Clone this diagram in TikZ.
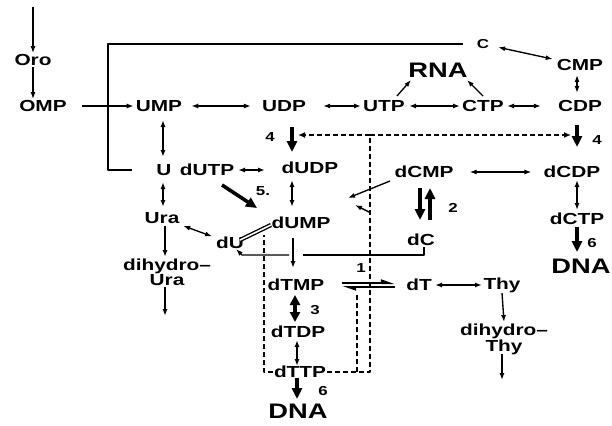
\documentclass[tikz,border=0pt]{standalone}
\usepackage{fontspec}
\setmainfont{Liberation Sans}[FakeStretch=1.3]
\usetikzlibrary{arrows.meta,calc}
\tikzset{
  every node/.style={font=\bfseries\fontsize{16}{14}\selectfont, inner sep=1pt},
  big/.style={font=\bfseries\fontsize{21}{21}\selectfont},
  num/.style={font=\bfseries\fontsize{13}{13}\selectfont},
  small/.style={font=\bfseries\fontsize{13}{13}\selectfont},
  two line/.style={align=center},
  line/.style={line width=1.35pt},
  edge/.style={line, -{Latex[length=7pt,width=5pt]}},
  both/.style={line, {Latex[length=7pt,width=5pt]}-{Latex[length=7pt,width=5pt]}},
  heavy/.style={line width=3.6pt, -{Triangle[length=11pt,width=10pt]}},
  heavy both/.style={line width=3.6pt, {Triangle[length=10pt,width=10pt]}-{Triangle[length=10pt,width=10pt]}},
  half/.style={line width=2pt, -{Triangle[harpoon,length=11pt,width=7pt]}},
  inhib/.style={line width=1.5pt, dash pattern=on 5pt off 3pt},
  gap/.style 2 args={shorten <=#1, shorten >=#2}
}

\begin{document}
\begin{tikzpicture}[x=1pt,y=-1pt,line cap=butt,line join=round]
  \useasboundingbox (0,0) rectangle (612,425);

  \node (oro) at (33,60) {Oro};
  \node (omp) at (43,106) {OMP};
  \node (ump) at (159,106) {UMP};
  \node (udp) at (284,106) {UDP};
  \node (utp) at (384,106) {UTP};
  \node (ctp) at (483,106) {CTP};
  \node (cdp) at (580,106) {CDP};
  \node[big] (rna) at (438,70) {RNA};
  \node[small] (cyd) at (483,44) {C};
  \node (cmp) at (580,65) {CMP};
  \node (u) at (164,170) {U};
  \node (dutp) at (207,170) {dUTP};
  \node (dudp) at (310,168) {dUDP};
  \node (dcmp) at (424,172) {dCMP};
  \node (dcdp) at (572,172) {dCDP};
  \node (ura) at (162,218) {Ura};
  \node (dump) at (301,223) {dUMP};
  \node (du) at (230,243) {dU};
  \node (dc) at (421,240) {dC};
  \node (dctp) at (577,219) {dCTP};
  \node[big] (dnac) at (581,266) {DNA};
  \node[two line] (dhura) at (167,272) {dihydro--\\Ura};
  \node (dtmp) at (296,285) {dTMP};
  \node (dt) at (419,285) {dT};
  \node (thy) at (502,285) {Thy};
  \node[two line] (dhthy) at (504,339) {dihydro--\\Thy};
  \node (dtdp) at (298,332) {dTDP};
  \node (dttp) at (300,372) {dTTP};
  \node[big] (dnat) at (298,411) {DNA};

  \node[num] (n4a) at (270,137) {4};
  \node[num] (n4b) at (597,140) {4};
  \node[num] (n5) at (263,191) {5.};
  \node[num] (n2) at (453,208) {2};
  \node[num] (n1) at (361,268) {1};
  \node[num] (n3) at (315,310) {3};
  \node[num] (n6a) at (592,243) {6};
  \node[num] (n6b) at (323,391) {6};

  \coordinate (src) at (33,7);
  \coordinate (fb) at (370,135);
  \coordinate (uraout) at (165,316);
  \coordinate (thyout) at (502,380);

  \draw[edge] (src) -- (oro);
  \draw[edge] (oro) -- (oro |- omp.north);
  \draw[edge, gap={14pt}{1pt}] (omp) -- (ump);
  \draw[both, gap={8pt}{10pt}] (ump) -- (udp);
  \draw[both, gap={16pt}{1pt}] (udp) -- (utp);
  \draw[both, gap={3pt}{1pt}] (utp) -- (ctp);
  \draw[both, gap={2pt}{16pt}] (ctp) -- (cdp);
  \draw[edge] ($(utp)+(13,-10)$) -- ($(rna)+(-27,10)$);
  \draw[edge] ($(ctp)+(0,-10)$) -- ($(rna)+(29,10)$);
  \draw[both, gap={8pt}{3pt}] (cyd) -- (cmp);
  \draw[both] ($(cmp)+(-3,10)$) -- ($(cdp)+(-3,-13)$);
  \draw[line] ($(u)+(-32,0)$) -- ($(u)+(-56,0)$) |- ($(cyd)+(-20,0)$);

  \draw[both] ($(ump)+(4,14)$) -- ($(u)+(-1,-13)$);
  \draw[both] ($(u)+(-1,12)$) -- ($(ura)+(1,-11)$);
  \draw[edge] ($(ura)+(3,8)$) -- ($(dhura)+(-2,-15)$);
  \draw[edge] ($(dhura)+(-2,15)$) -- (uraout);
  \draw[both, gap={3pt}{3pt}] (ura) -- (du);

  \draw[heavy] ($(udp)+(8,21)$) -- ($(dudp)+(-18,-16)$);
  \draw[both] ($(dutp)+(31,0)$) -- ($(dudp)+(-45,2)$);
  \draw[heavy] ($(dutp)+(15,15)$) -- ($(dump)+(-44,-15)$);
  \draw[both] ($(dudp)+(-18,12)$) -- ($(dump)+(-9,-16)$);
  \draw[line, double, double distance=1.6pt] ($(du)+(10,-3)$) -- ($(dump)+(-30,2)$);
  \draw[edge] ($(dump)+(-8,15)$) -- ($(dtmp)+(-3,-17)$);
  \draw[line] ($(dc.south)+(3,0)$) |- ($(dump)+(2,32)$);
  \draw[edge] ($(dump)+(-12,32)$) -- ($(du)+(12,12)$) -- ($(du)+(6,6)$);
  \draw[edge] ($(dcmp)+(-34,9)$) -- ($(dump)+(47,-25)$);

  \draw[both, gap={15pt}{11pt}] (dcmp) -- (dcdp);
  \draw[heavy] ($(dcmp)+(-4,16)$) -- ($(dc)+(-1,-20)$);
  \draw[heavy] ($(dc)+(9,-20)$) -- ($(dcmp)+(6,16)$);
  \draw[heavy] ($(cdp)+(-3,19)$) -- ($(dcdp)+(5,-25)$);
  \draw[both] ($(dcdp)+(5,8)$) -- ($(dctp)+(0,-9)$);
  \draw[heavy] ($(dctp)+(0,8)$) -- ($(dnac)+(-4,-14)$);

  \draw[half] ($(dtmp)+(46,-2)$) -- ($(dt)+(-24,-2)$);
  \draw[half] ($(dt)+(-24,2)$) -- ($(dtmp)+(46,2)$);
  \draw[both] ($(dt)+(16,0)$) -- ($(thy)+(-20,0)$);
  \draw[edge] ($(thy)+(0,8)$) -- ($(dhthy)+(0,-17)$);
  \draw[edge] ($(dhthy)+(-2,15)$) -- (thyout);
  \draw[heavy both] ($(dtmp)+(-1,10)$) -- ($(dtdp)+(-3,-10)$);
  \draw[both] ($(dtdp)+(-1,8)$) -- ($(dttp)+(-3,-6)$);
  \draw[heavy] ($(dttp)+(-3,6)$) -- ($(dnat)+(-1,-12)$);

  \draw[inhib] (dttp.east) -| (fb);
  \draw[inhib, -{Latex[length=7pt,width=6pt]}] (fb) -- ($(udp)+(14,29)$);
  \draw[inhib, -{Latex[length=7pt,width=6pt]}] (fb) -- ($(cdp)+(-9,29)$);
  \draw[inhib] (dttp.west) -| ($(du)+(34,-8)$);
  \draw[inhib] ($(dttp)+(57,0)$) -- ($(dtmp)+(61,8)$);
  \draw[edge] ($(fb)+(-1,77)$) -- ($(fb)+(-15,70)$);
\end{tikzpicture}
\end{document}
